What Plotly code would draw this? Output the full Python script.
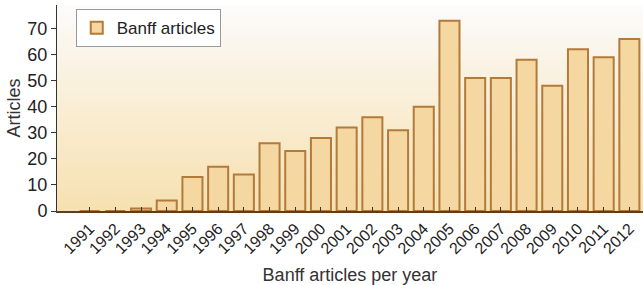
import plotly.graph_objects as go

years = [str(y) for y in range(1991, 2013)]
articles = [0, 0, 1, 4, 13, 17, 14, 26, 23, 28, 32, 36, 31, 40, 73, 51, 51, 58, 48, 62, 59, 66]
y_ticks = [0, 10, 20, 30, 40, 50, 60, 70]
series_name = "Banff articles"

FONT = "Liberation Sans, Arial, sans-serif"

fig = go.Figure()
fig.add_trace(go.Bar(
    x=list(range(len(years))), y=articles, name=series_name,
    marker=dict(color="#f5d7a1", line=dict(color="#b27b3c", width=2)),
    showlegend=True,
))

# background vertical gradient (white top -> light tan bottom)
n = 40
top = (252, 252, 253)
bot = (247, 225, 178)
shapes = []
for i in range(n):
    t = (i / (n - 1)) ** 0.9
    c = tuple(int(round(top[k] + (bot[k] - top[k]) * t)) for k in range(3))
    shapes.append(dict(type="rect", xref="x domain", yref="y domain",
                       x0=0, x1=1, y0=max(0, 1 - (i + 1) / n), y1=min(1, 1 - i / n + 0.008),
                       fillcolor="rgb(%d,%d,%d)" % c, line=dict(width=0), layer="below"))

fig.update_layout(
    width=643, height=285,
    margin=dict(l=57, r=0, t=5, b=74, autoexpand=False),
    paper_bgcolor="white", plot_bgcolor="white",
    shapes=shapes,
    bargap=0.22,
    font=dict(family=FONT, color="#222"),
    legend=dict(x=0.032, y=0.98, xanchor="left", yanchor="top",
                bgcolor="white", bordercolor="#999", borderwidth=1,
                font=dict(size=17, color="#222"), itemwidth=30,
                tracegroupgap=0),
    xaxis=dict(
        range=[-1.27, 21.53], tickmode="array",
        tickvals=list(range(len(years))), ticktext=years,
        tickangle=-45, tickfont=dict(size=16, color="#222"),
        ticks="inside", ticklen=4, tickcolor="#333", tickson="boundaries",
        showline=True, linecolor="#5a4020", linewidth=2,
        showgrid=False, zeroline=False, automargin=False,
        title=dict(text="Banff articles per year", font=dict(size=18, color="#333"), standoff=16),
    ),
    yaxis=dict(
        range=[0, 79], tickvals=y_ticks,
        tickfont=dict(size=18, color="#222"),
        ticks="outside", ticklen=5, tickcolor="#333",
        showline=True, linecolor="#333", linewidth=1,
        showgrid=False, zeroline=False, automargin=False,
        title=dict(text="Articles", font=dict(size=18, color="#333"), standoff=2),
    ),
)

fig.write_html("out.html", config={"displayModeBar": False})
with open("out.html", encoding="utf-8") as f:
    html = f.read()
html = html.replace("<body>", '<body style="margin:0;padding:0;overflow:hidden">', 1)
with open("out.html", "w", encoding="utf-8") as f:
    f.write(html)
